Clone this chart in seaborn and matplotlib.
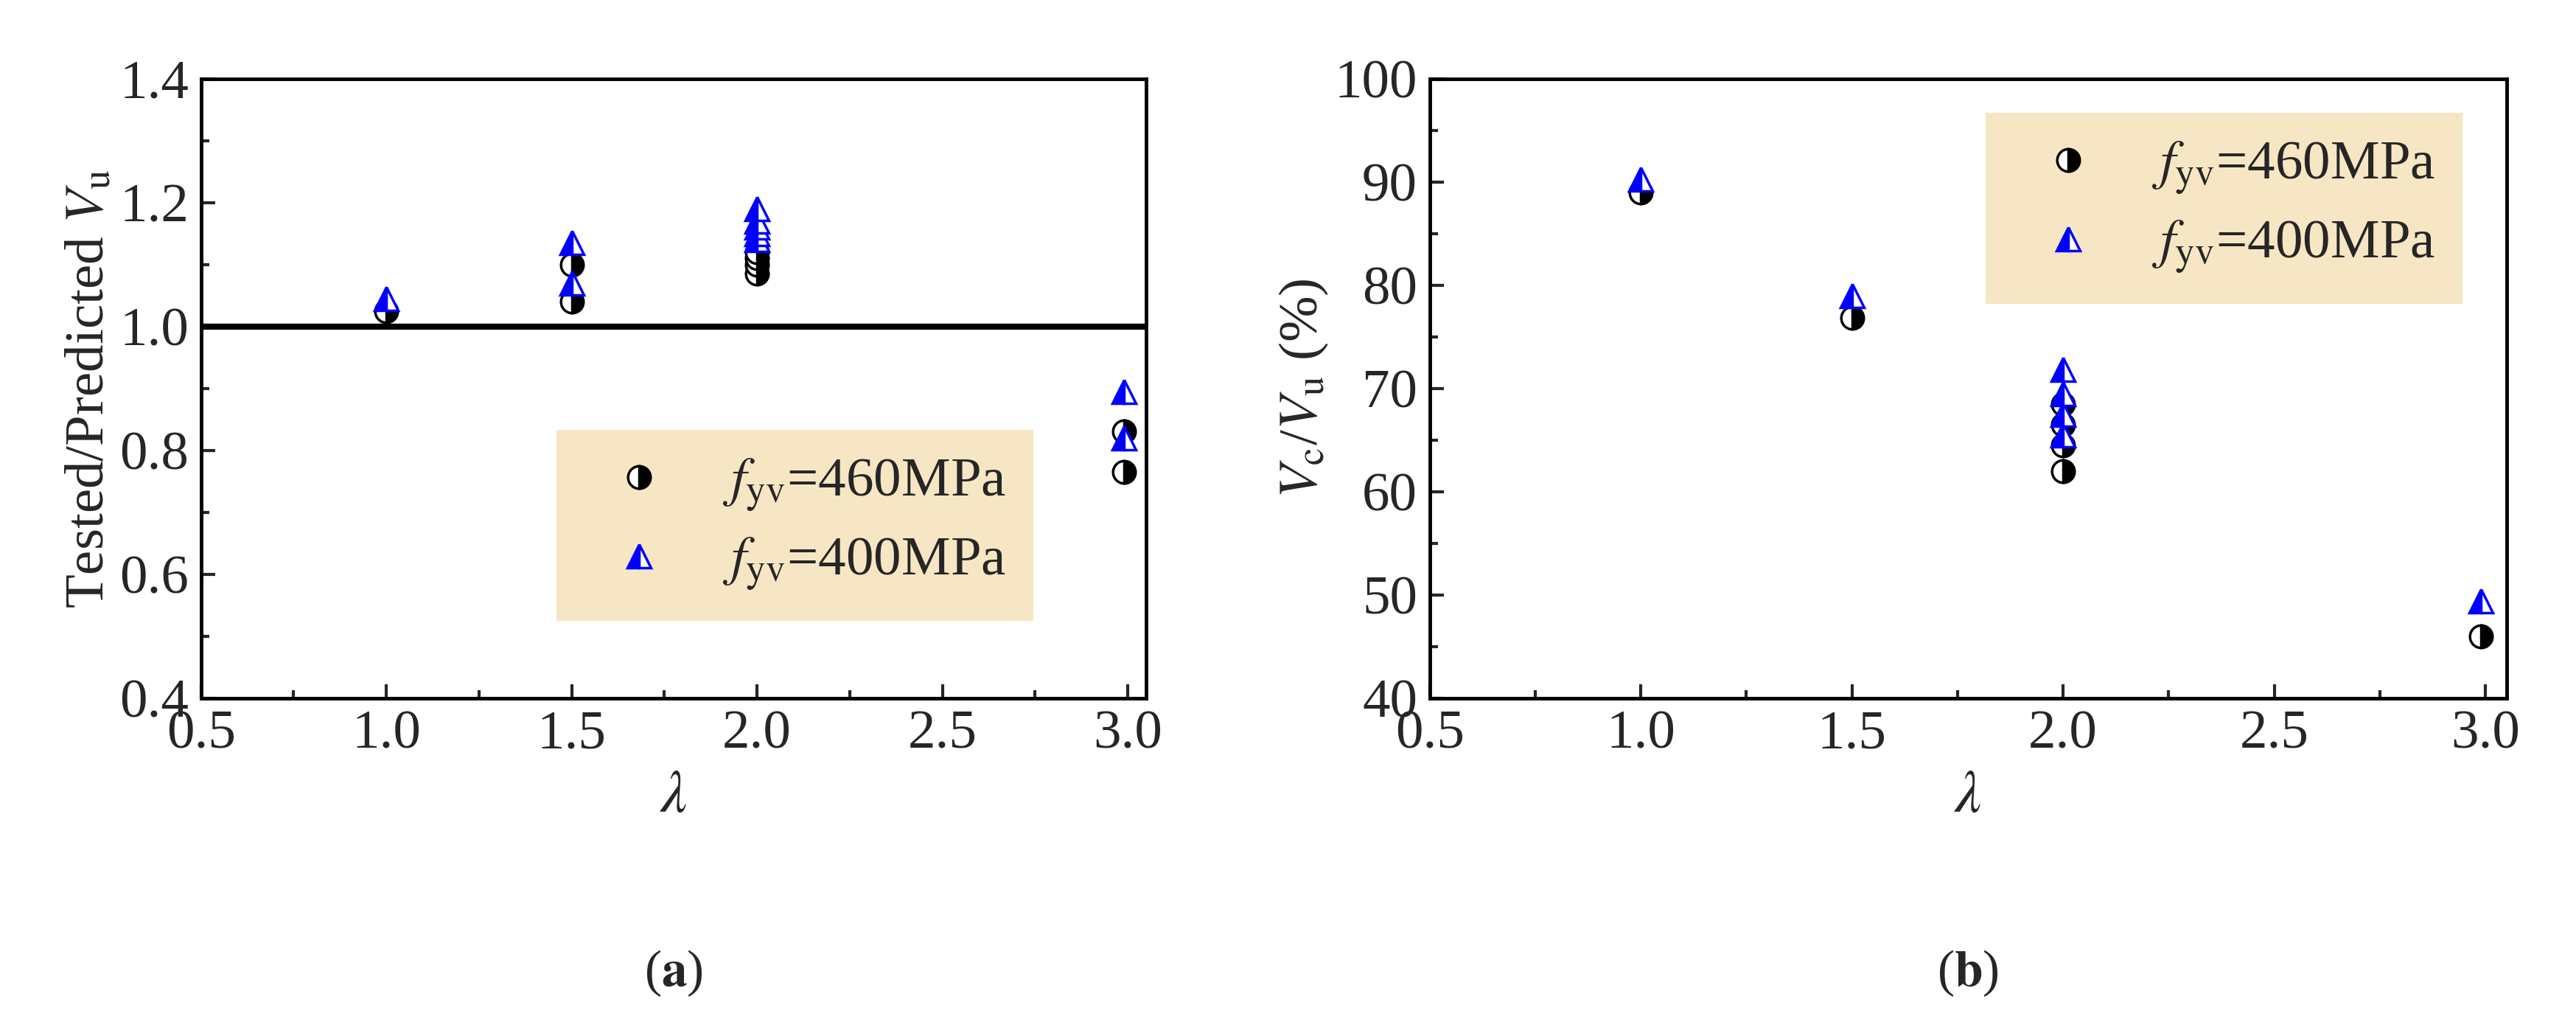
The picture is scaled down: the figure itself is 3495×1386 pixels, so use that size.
import matplotlib
matplotlib.use("Agg")
import matplotlib.pyplot as plt
import matplotlib.ticker as ticker
import seaborn as sns
import pandas as pd

# (a) tested / predicted Vu
a_x460 = [1.0, 1.5, 1.5, 2.0, 2.0, 2.0, 2.0, 2.99, 2.99]
a_y460 = [1.025, 1.04, 1.10, 1.085, 1.10, 1.11, 1.12, 0.83, 0.765]
a_x400 = [1.0, 1.5, 1.5, 2.0, 2.0, 2.0, 2.0, 2.0, 2.99, 2.99]
a_y400 = [1.045, 1.07, 1.135, 1.14, 1.15, 1.16, 1.17, 1.19, 0.895, 0.82]

# (b) Vc / Vu (%)
b_x460 = [1.0, 1.5, 2.0, 2.0, 2.0, 2.0, 2.99]
b_y460 = [89.0, 76.8, 62.0, 64.5, 66.5, 68.5, 46.0]
b_x400 = [1.0, 1.5, 2.0, 2.0, 2.0, 2.0, 2.99]
b_y400 = [90.3, 79.0, 65.5, 67.5, 69.5, 71.8, 49.4]

sns.set_style("ticks")
plt.rcParams['font.family'] = ['Liberation Serif', 'DejaVu Serif']
plt.rcParams['mathtext.fontset'] = 'stix'

fs = 54
fig = plt.figure(figsize=(34.95, 13.86), dpi=100)
ax1 = fig.add_axes([0.078, 0.317, 0.367, 0.606])
ax2 = fig.add_axes([0.555, 0.317, 0.418, 0.606])

lab460 = r"$f_{\mathrm{yv}}$=460MPa"
lab400 = r"$f_{\mathrm{yv}}$=400MPa"


def draw(ax, x460, y460, x400, y400):
    d1 = pd.DataFrame({"x": x460, "y": y460})
    d2 = pd.DataFrame({"x": x400, "y": y400})
    sns.lineplot(data=d1, x="x", y="y", ax=ax, estimator=None, sort=False,
                 linestyle="none", marker="o", fillstyle="right", markersize=22,
                 color="black", markeredgecolor="black", markerfacecolor="black",
                 markerfacecoloralt="white", markeredgewidth=2.5, label=lab460)
    sns.lineplot(data=d2, x="x", y="y", ax=ax, estimator=None, sort=False,
                 linestyle="none", marker="^", fillstyle="left", markersize=23,
                 color="blue", markeredgecolor="blue", markerfacecolor="blue",
                 markerfacecoloralt="white", markeredgewidth=2.5, label=lab400)
    ax.set_xlim(0.5, 3.05)
    ax.xaxis.set_major_locator(ticker.MultipleLocator(0.5))
    ax.xaxis.set_minor_locator(ticker.MultipleLocator(0.25))
    ax.xaxis.set_major_formatter(ticker.FormatStrFormatter('%.1f'))
    ax.tick_params(which='major', direction='in', length=14, width=3, labelsize=fs, pad=12)
    ax.tick_params(which='minor', direction='in', length=8, width=3)
    for s in ax.spines.values():
        s.set_linewidth(3.5)
        s.set_color('black')
    ax.set_xlabel(r"$\lambda$", fontsize=fs + 4, labelpad=10)


draw(ax1, a_x460, a_y460, a_x400, a_y400)
ax1.axhline(1.0, color='black', lw=6)
ax1.set_ylim(0.4, 1.4)
ax1.yaxis.set_major_locator(ticker.MultipleLocator(0.2))
ax1.yaxis.set_minor_locator(ticker.MultipleLocator(0.1))
ax1.yaxis.set_major_formatter(ticker.FormatStrFormatter('%.1f'))
ax1.set_ylabel(r"Tested/Predicted $V_{\mathrm{u}}$", fontsize=fs)
ax1.legend(loc='lower right', bbox_to_anchor=(0.91, 0.08), fontsize=fs,
           frameon=True, facecolor='#F7E6C4', edgecolor='none', framealpha=1,
           fancybox=False, handletextpad=0.5, borderpad=0.5, labelspacing=0.4)

draw(ax2, b_x460, b_y460, b_x400, b_y400)
ax2.set_ylim(40, 100)
ax2.yaxis.set_major_locator(ticker.MultipleLocator(10))
ax2.yaxis.set_minor_locator(ticker.MultipleLocator(5))
ax2.set_ylabel(r"$V_{\mathrm{c}}$/$V_{\mathrm{u}}$ (%)", fontsize=fs)
ax2.legend(loc='upper right', bbox_to_anchor=(0.985, 0.99), fontsize=fs,
           frameon=True, facecolor='#F7E6C4', edgecolor='none', framealpha=1,
           fancybox=False, handletextpad=0.5, borderpad=0.5, labelspacing=0.4)

fig.text(0.2615, 0.035, r"($\mathbf{a}$)", ha='center', fontsize=fs - 4)
fig.text(0.764, 0.035, r"($\mathbf{b}$)", ha='center', fontsize=fs - 4)

fig.savefig("out.png", dpi=100)
